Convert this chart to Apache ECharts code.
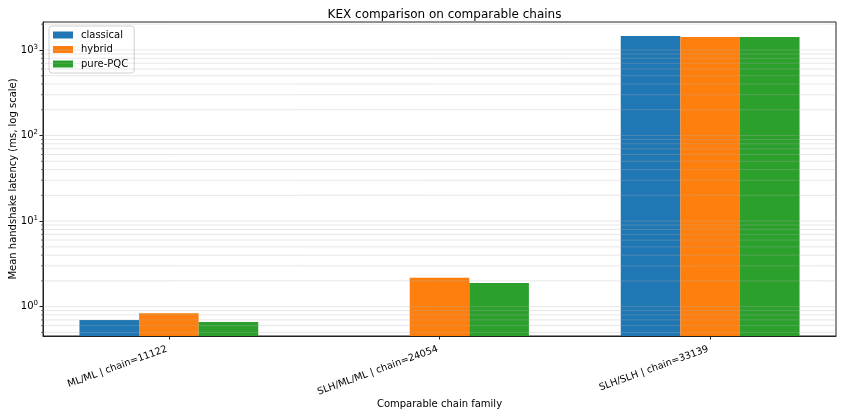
<!DOCTYPE html>
<html>
<head>
<meta charset="utf-8">
<script src="https://cdn.jsdelivr.net/npm/echarts@6/dist/echarts.min.js"></script>
<style>html,body{margin:0;padding:0;background:#fff}#c{width:844px;height:417px}</style>
</head>
<body>
<div id="c"></div>
<script>
const categories = ['ML/ML | chain=11122', 'SLH/ML/ML | chain=24054', 'SLH/SLH | chain=33139'];
const seriesNames = ['classical', 'hybrid', 'pure-PQC'];
const classical = [0.70, null, 1460];
const hybrid = [0.84, 2.17, 1420];
const purePQC = [0.66, 1.89, 1415];
const gridValues = [0.5,0.6,0.7,0.8,0.9,1,2,3,4,5,6,7,8,9,10,20,30,40,50,60,70,80,90,100,200,300,400,500,600,700,800,900,1000,2000];
const majorTicks = [1, 10, 100, 1000];
const yMin = 0.454, yMax = 2123;
const xMin = -0.465, xMax = 2.465;

const colors = ['#1f77b4', '#ff7f0e', '#2ca02c'];
const font = 'DejaVu Sans';
const toData = arr => arr.map((v, i) => [i, v == null ? '-' : v]);

const chart = echarts.init(document.getElementById('c'), null, {renderer: 'canvas'});
const barSeries = [classical, hybrid, purePQC].map((arr, k) => ({
  name: seriesNames[k],
  type: 'bar',
  data: toData(arr),
  barWidth: 59.6,
  barGap: '0%',
  itemStyle: {color: colors[k]},
  z: 2
}));

chart.setOption({
  animation: false,
  textStyle: {fontFamily: font},
  title: {
    text: 'KEX comparison on comparable chains',
    left: 439.5, top: 4, textAlign: 'center',
    textStyle: {fontFamily: font, fontSize: 12, fontWeight: 'normal', color: '#000'}
  },
  legend: {
    data: seriesNames,
    orient: 'vertical',
    left: 49, top: 26,
    itemWidth: 20, itemHeight: 7, itemGap: 2.5,
    padding: [3, 6, 3, 4],
    borderColor: '#d0d0d0', borderWidth: 1, borderRadius: 3,
    backgroundColor: 'rgba(255,255,255,0.8)',
    textStyle: {fontFamily: font, fontSize: 10, lineHeight: 12, color: '#000', padding: [0, 0, 0, 3]},
    icon: 'rect'
  },
  grid: {left: 43, right: 8, top: 22, bottom: 81, show: true, borderColor: '#222', borderWidth: 1,
    containLabel: false, outerBoundsMode: 'none'},
  xAxis: {
    type: 'value', min: xMin, max: xMax,
    name: 'Comparable chain family', nameLocation: 'middle', nameGap: 63, nameMoveOverlap: false,
    nameTextStyle: {fontFamily: font, fontSize: 10, color: '#000'},
    axisLine: {show: true, onZero: false, lineStyle: {color: '#222'}},
    axisTick: {show: true, length: 3.5, lineStyle: {color: '#222'},
      customValues: categories.map((c, i) => i)},
    axisLabel: {
      rotate: 20, fontFamily: font, fontSize: 9.7, color: '#000', margin: 12,
      padding: [0, 2, 0, 0],
      customValues: categories.map((c, i) => i),
      formatter: v => categories[Math.round(v)] || ''
    },
    splitLine: {show: false}
  },
  yAxis: {
    type: 'log', logBase: 10, min: yMin, max: yMax, startValue: yMin,
    name: 'Mean handshake latency (ms, log scale)', nameLocation: 'middle', nameGap: 25, nameMoveOverlap: false,
    nameTextStyle: {fontFamily: font, fontSize: 10, color: '#000'},
    axisLine: {show: true, onZero: false, lineStyle: {color: '#222'}},
    axisTick: {show: true, length: 3.5, lineStyle: {color: '#222'}, customValues: majorTicks},
    axisLabel: {
      fontFamily: font, fontSize: 10, color: '#000', margin: 5,
      customValues: majorTicks,
      formatter: v => '10{s|' + Math.round(Math.log10(v)) + '}',
      rich: {s: {fontSize: 7, verticalAlign: 'top', padding: [0, 0, 6, 0], fontFamily: font, color: '#000'}}
    },
    splitLine: {show: false}
  },
  series: barSeries.concat([{
    name: 'grid',
    type: 'custom',
    silent: true,
    z: 5,
    data: gridValues.map(v => [xMin, v]),
    encode: {x: 0, y: 1},
    renderItem: (params, api) => {
      const cs = params.coordSys;
      const v = api.value(1);
      const y = api.coord([xMin, v])[1];
      const children = [{
        type: 'line',
        shape: {x1: cs.x, y1: y, x2: cs.x + cs.width, y2: y},
        style: {stroke: 'rgba(176,176,176,0.3)', lineWidth: 1}
      }];
      if (majorTicks.indexOf(v) < 0) {
        children.push({
          type: 'line',
          shape: {x1: cs.x - 2, y1: y, x2: cs.x, y2: y},
          style: {stroke: '#222', lineWidth: 0.6}
        });
      }
      return {type: 'group', children: children};
    }
  }])
});
</script>
</body>
</html>
